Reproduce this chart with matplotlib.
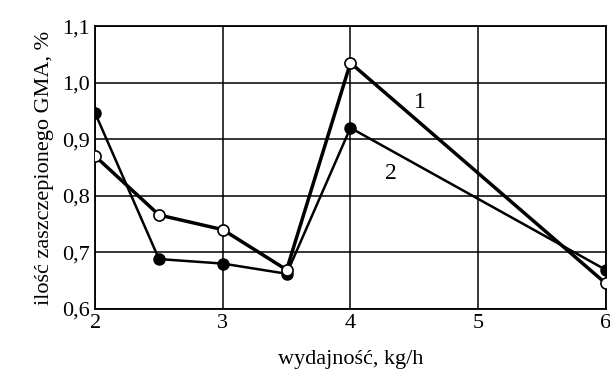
import numpy as np
import matplotlib.pyplot as plt

plt.rcParams['font.family'] = ['Liberation Serif', 'DejaVu Serif']

# dane
x = [2, 2.5, 3, 3.5, 4, 6]
y1 = [0.87, 0.766, 0.74, 0.669, 1.035, 0.645]   # krzywa 1 (puste kolka)
y2 = [0.946, 0.688, 0.68, 0.662, 0.92, 0.669]   # krzywa 2 (pelne kolka)
xticks = [2, 3, 4, 5, 6]
yticks = [0.6, 0.7, 0.8, 0.9, 1.0, 1.1]
ytick_labels = ['0,6', '0,7', '0,8', '0,9', '1,0', '1,1']

fig = plt.figure(figsize=(6.1, 3.78), dpi=100)
ax = fig.add_axes([0.156, 0.183, 0.837, 0.748])

ax.plot(x, y2, color='black', lw=1.8, marker='o', ms=8, mfc='black', mec='black', zorder=3)
ax.plot(x, y1, color='black', lw=2.5, marker='o', ms=8, mfc='white', mec='black', mew=1.2, zorder=4)

ax.text(4.54, 0.964, '1', fontsize=17, ha='center', va='center')
ax.text(4.32, 0.84, '2', fontsize=17, ha='center', va='center')

ax.set_xlim(2, 6)
ax.set_ylim(0.6, 1.1)
ax.set_xticks(xticks)
ax.set_xticklabels([str(t) for t in xticks])
ax.set_yticks(yticks)
ax.set_yticklabels(ytick_labels)
ax.tick_params(labelsize=16, length=0, pad=4)
ax.grid(True, color='black', lw=1.1)
for s in ax.spines.values():
    s.set_linewidth(1.3)

ax.set_xlabel('wydajność, kg/h', fontsize=16, labelpad=12)
ax.set_ylabel('ilość zaszczepionego GMA, %', fontsize=16, labelpad=6)

fig.savefig('out.png', dpi=100)
